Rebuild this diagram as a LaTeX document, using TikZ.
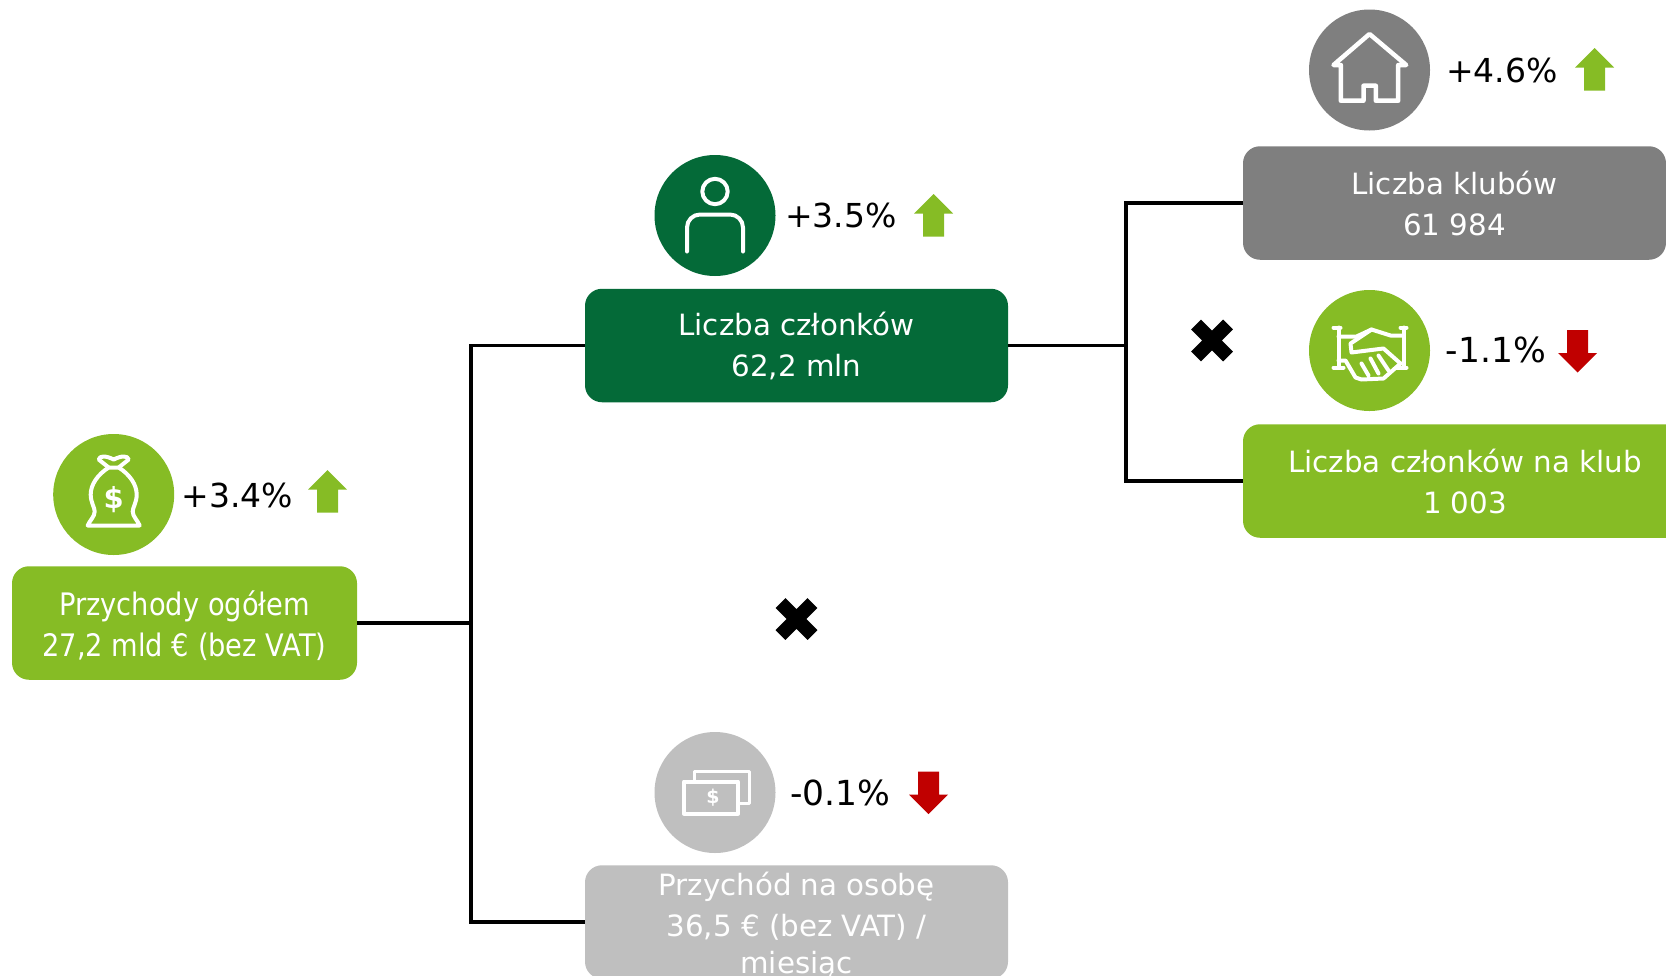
\documentclass[tikz,border=0pt]{standalone}
\usepackage{fontspec}
\setmainfont{DejaVu Sans}
\newfontfamily\narrowfont[FakeStretch=0.88]{DejaVu Sans}
\definecolor{lime}{HTML}{86BC25}
\definecolor{forest}{HTML}{046A38}
\definecolor{midgray}{HTML}{7F7F7F}
\definecolor{lightgray}{HTML}{BFBFBF}
\definecolor{downred}{HTML}{C00000}
\tikzset{
    kpibox/.style={rectangle, rounded corners=17pt, inner sep=0pt, text=white, align=center,
        minimum width=423pt, minimum height=113.5pt, font=\fontsize{29.3}{41}\selectfont},
    badge/.style={circle, minimum size=121pt, inner sep=0pt},
    change/.style={text=black, inner sep=0pt, font=\fontsize{33}{36}\selectfont},
    joinline/.style={draw=black, line width=3.5pt},
    iconline/.style={draw=white, line width=4pt, line cap=round, line join=round},
    uparrow/.pic={\fill[lime] (0,-21.5) -- (19.5,-2) -- (10.5,-2) -- (10.5,21) -- (-10.5,21) -- (-10.5,-2) -- (-19.5,-2) -- cycle;},
    downarrow/.pic={\fill[downred] (0,21.5) -- (19.5,2) -- (10.5,2) -- (10.5,-21) -- (-10.5,-21) -- (-10.5,2) -- (-19.5,2) -- cycle;},
    timesmark/.pic={\draw[black, line width=14pt] (-16,-16) -- (16,16) (-16,16) -- (16,-16);}
}
\begin{document}
\begin{tikzpicture}[x=1pt,y=-1pt]
    \clip (0,0) rectangle (1666,975);
    % boxes
    \node[kpibox, fill=lime, minimum width=345pt, font=\narrowfont\fontsize{31}{41}\selectfont] (revenue) at (184.5,623) {\rule{0pt}{30pt}Przychody ogółem\\27,2 mld € (bez VAT)};
    \node[kpibox, fill=forest] (members) at (796.5,345.5) {Liczba członków\\62,2 mln};
    \node[kpibox, fill=lightgray] (perperson) at (796.5,922) {};
    \node[text=white, align=center, inner sep=0pt, font=\fontsize{29.3}{41}\selectfont] (perpersontext) at (796.5,926) {Przychód na osobę\\36,5 € (bez VAT) /\\[-4pt]miesiąc};
    \node[kpibox, fill=midgray] (clubs) at (1454.5,203) {Liczba klubów\\61 984};
    \node[kpibox, fill=lime, minimum width=444pt] (perclub) at (1465,481) {Liczba członków na klub\\1 003};
    % connectors
    \coordinate (splitleft) at (471,623);
    \coordinate (splitright) at (1126,345.5);
    \draw[joinline] (revenue.east) -- (splitleft);
    \draw[joinline] (splitleft) |- (members.west);
    \draw[joinline] (splitleft) |- (perperson.west);
    \draw[joinline] (members.east) -- (splitright);
    \draw[joinline] (splitright) |- (clubs.west);
    \draw[joinline] (splitright) |- (perclub.west);
    % badges
    \node[badge, fill=lime] (bagbadge) at (113.7,494.5) {};
    \node[badge, fill=forest] (personbadge) at (715,215.5) {};
    \node[badge, fill=lightgray] (cashbadge) at (715,792.5) {};
    \node[badge, fill=midgray] (housebadge) at (1369.5,70) {};
    \node[badge, fill=lime] (handbadge) at (1369.5,350.5) {};
    % changes
    \node[change] (revchange) at (237.5,495) {+3.4\%};
    \node[change] (memchange) at (841,215) {+3.5\%};
    \node[change, font=\fontsize{34.5}{36}\selectfont] (perchange) at (840.5,793) {-0.1\%};
    \node[change] (clubchange) at (1502,70) {+4.6\%};
    \node[change, font=\fontsize{34.5}{36}\selectfont] (avgchange) at (1496,350) {-1.1\%};
    \pic at (327.5,491.5) {uparrow};
    \pic at (933.5,215.5) {uparrow};
    \pic at (1594.5,69.5) {uparrow};
    \pic at (1577.5,351) {downarrow};
    \pic at (928.5,792.5) {downarrow};
    \pic at (796.5,619) {timesmark};
    \pic at (1212,340.5) {timesmark};
    % money bag
    \begin{scope}[shift={(bagbadge.center)}]
    \draw[iconline] (-5,-27) .. controls (-16,-20) and (-23,-10) .. (-23,0) .. controls (-23,8) and (-19,13) .. (-19,17)
        .. controls (-19,22) and (-24,26) .. (-26,31) -- (26,31) .. controls (24,26) and (19,22) .. (19,17)
        .. controls (19,13) and (23,8) .. (23,0) .. controls (23,-10) and (16,-20) .. (5,-27) -- cycle;
    \draw[iconline] (-5,-27) -- (-15,-35) .. controls (-14,-39) and (-8,-39) .. (0,-35) .. controls (8,-39) and (14,-39) .. (15,-35) -- (5,-27);
    \node[text=white, inner sep=0pt, font=\bfseries\fontsize{29}{29}\selectfont] (bagsign) at (0,5) {\$};
    \end{scope}
    % person
    \begin{scope}[shift={(personbadge.center)}]
    \draw[iconline] (0,-24) circle (12.7);
    \draw[iconline, rounded corners=13pt] (-28,36) -- (-28,-1) -- (28,-1) -- (28,36);
    \end{scope}
    % house
    \begin{scope}[shift={(housebadge.center)}]
    \draw[iconline, line width=4.5pt] (-36,-5) -- (0,-36) -- (36.7,-5) -- (28.7,-5) -- (28.7,30.7) -- (6.3,30.7) -- (6.3,15.7) -- (-6,15.7) -- (-6,30.7) -- (-28.7,30.7) -- (-28.7,-5) -- cycle;
    \end{scope}
    % cash
    \begin{scope}[shift={(cashbadge.center)}]
    \draw[iconline] (-31,-11) rectangle (23,21);
    \draw[iconline, line width=3pt] (-21,-12) -- (-21,-21) -- (34,-21) -- (34,11) -- (24,11);
    \node[text=white, inner sep=0pt, font=\bfseries\fontsize{19}{19}\selectfont] (cashsign) at (-2,5) {\$};
    \end{scope}
    % handshake
    \begin{scope}[shift={(handbadge.center)}]
    \draw[iconline] (-36,-23) -- (-29,-23) (-31,-23) -- (-31,17) (-36,17) -- (-26,17);
    \draw[iconline] (31,-23) -- (37,-23) (34,-23) -- (34,17) (27,17) -- (37,17);
    \draw[iconline] (-31,-14) -- (-13,-14) -- (2,-21) -- (21,-15) -- (34,-15);
    \draw[iconline] (2,-21) -- (-19,-7) -- (-18,2) -- (14,-2) -- (31,13);
    \draw[iconline] (-31,10) -- (-24,10) -- (-14,27) -- (-8,29) -- (14,28) -- (31,13);
    \foreach \x/\y/\u/\v in {-8/13/-1/25, 1/8/9/23, 9/5/19/20}
        \draw[iconline] (\x,\y) -- (\u,\v);
    \end{scope}
\end{tikzpicture}
\end{document}
